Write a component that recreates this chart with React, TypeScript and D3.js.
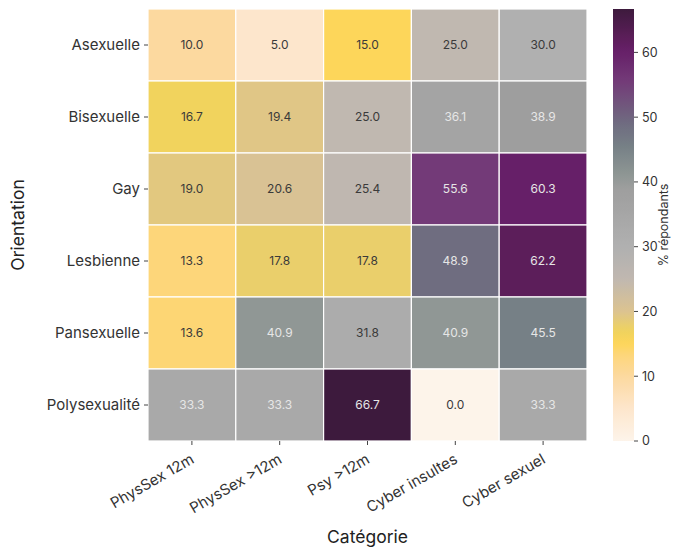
import React from "react";
import * as d3 from "d3";

const rows = ["Asexuelle", "Bisexuelle", "Gay", "Lesbienne", "Pansexuelle", "Polysexualité"];
const cols = ["PhysSex 12m", "PhysSex >12m", "Psy >12m", "Cyber insultes", "Cyber sexuel"];
const values: number[][] = [
  [10.0, 5.0, 15.0, 25.0, 30.0],
  [16.7, 19.4, 25.0, 36.1, 38.9],
  [19.0, 20.6, 25.4, 55.6, 60.3],
  [13.3, 17.8, 17.8, 48.9, 62.2],
  [13.6, 40.9, 31.8, 40.9, 45.5],
  [33.3, 33.3, 66.7, 0.0, 33.3],
];
const colorbarTicks = [0, 10, 20, 30, 40, 50, 60];
const cmapStops = [0, 5, 10, 13.3, 15, 17, 20, 25, 30, 33, 36, 39, 41, 45.5, 49, 55.6, 60.3, 62.2, 66.7];
const cmapColors = ["#fdf4ea", "#fde6cc", "#fcd99f", "#fdd67a", "#fdd65a", "#efd35e", "#dcc390", "#c0b8b0", "#b0b0b0", "#aaaaaa", "#a4a4a4", "#9e9e9e", "#8f9794", "#768086", "#6f6c80", "#733a78", "#661f68", "#5c1e5a", "#3d1a3d"];

const W = 679, H = 547;
const left = 148, right = 587, top = 9, bottom = 441;
const cbX = 613, cbW = 21;
const FONT = "Inter, 'Noto Sans', sans-serif";

function lum(c: string) {
  const r = d3.rgb(c);
  const f = (v: number) => {
    const s = v / 255;
    return s <= 0.03928 ? s / 12.92 : Math.pow((s + 0.055) / 1.055, 2.4);
  };
  return 0.2126 * f(r.r) + 0.7152 * f(r.g) + 0.0722 * f(r.b);
}

export default function App() {
  const vmax = d3.max(values.flat()) as number;
  const color = d3.scaleLinear<string>().domain(cmapStops).range(cmapColors).interpolate(d3.interpolateRgb).clamp(true);
  const x = d3.scaleBand().domain(cols).range([left, right]).padding(0);
  const y = d3.scaleBand().domain(rows).range([top, bottom]).padding(0);
  const cb = d3.scaleLinear().domain([0, vmax]).range([bottom, top]);
  const gradStops = d3.range(0, 101).map((i) => vmax * i / 100);

  return (
    <svg width={W} height={H} style={{ position: "absolute", left: 0, top: 0, background: "#fff" }} fontFamily={FONT}>
      <defs>
        <linearGradient id="cbgrad" x1="0" y1="1" x2="0" y2="0">
          {gradStops.map((v, i) => (
            <stop key={i} offset={`${i}%`} stopColor={color(v)} />
          ))}
        </linearGradient>
      </defs>
      {values.map((row, ri) =>
        row.map((v, ci) => {
          const c = color(v);
          const tx = (x(cols[ci]) as number) + x.bandwidth() / 2;
          const ty = (y(rows[ri]) as number) + y.bandwidth() / 2;
          return (
            <g key={`${ri}-${ci}`}>
              <rect x={x(cols[ci])} y={y(rows[ri])} width={x.bandwidth()} height={y.bandwidth()} fill={c} stroke="#ffffff" strokeWidth={1.2} />
              <text x={tx} y={ty} dy="0.35em" textAnchor="middle" fontSize={12} fill={lum(c) > 0.408 ? "#3a3a3a" : "#e6e6e6"}>
                {v.toFixed(1)}
              </text>
            </g>
          );
        })
      )}
      {rows.map((r) => {
        const ty = (y(r) as number) + y.bandwidth() / 2;
        return (
          <g key={r}>
            <line x1={left - 4} x2={left} y1={ty} y2={ty} stroke="#444" strokeWidth={1} />
            <text x={left - 8} y={ty} dy="0.35em" textAnchor="end" fontSize={15} fill="#333">{r}</text>
          </g>
        );
      })}
      {cols.map((c) => {
        const tx = (x(c) as number) + x.bandwidth() / 2;
        return (
          <g key={c}>
            <line x1={tx} x2={tx} y1={bottom} y2={bottom + 4} stroke="#444" strokeWidth={1} />
            <text transform={`translate(${tx - 2},${bottom + 12}) rotate(-30)`} dy="0.7em" textAnchor="end" fontSize={15} fill="#333">{c}</text>
          </g>
        );
      })}
      <text x={(left + right) / 2} y={543} textAnchor="middle" fontSize={17.5} fill="#222">Catégorie</text>
      <text transform={`translate(24,${(top + bottom) / 2}) rotate(-90)`} textAnchor="middle" fontSize={17.5} fill="#222">Orientation</text>
      <rect x={cbX} y={top} width={cbW} height={bottom - top} fill="url(#cbgrad)" />
      {colorbarTicks.map((t) => (
        <g key={t}>
          <line x1={cbX + cbW} x2={cbX + cbW + 4} y1={cb(t)} y2={cb(t)} stroke="#444" strokeWidth={1} />
          <text x={cbX + cbW + 8} y={cb(t)} dy="0.35em" fontSize={12.5} fill="#333">{t}</text>
        </g>
      ))}
      <text transform={`translate(668,${(top + bottom) / 2}) rotate(-90)`} textAnchor="middle" fontSize={12.5} fill="#333">% répondants</text>
    </svg>
  );
}
